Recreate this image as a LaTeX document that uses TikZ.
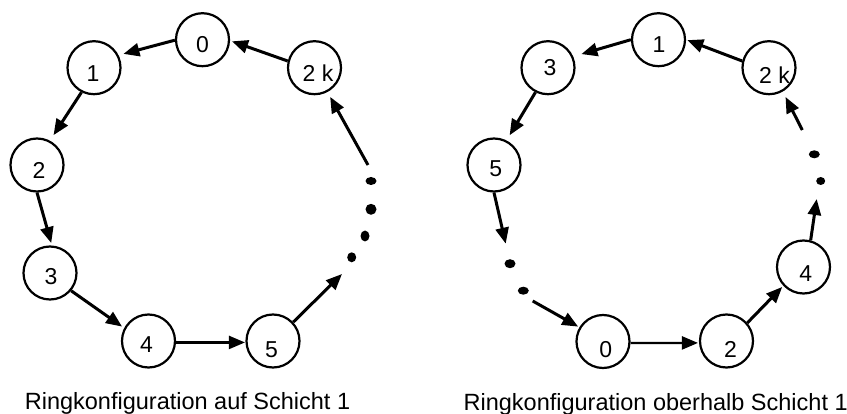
\documentclass[tikz,border=0pt]{standalone}
\usepackage{fontspec}
\setmainfont{Liberation Sans}
\usetikzlibrary{arrows.meta}
\begin{document}
\begin{tikzpicture}[x=1pt,y=-1pt,
  ring/.style={draw, circle, line width=2.2pt, minimum size=53pt, inner sep=0pt},
  num/.style={inner sep=0pt, font=\fontsize{23}{26}\selectfont},
  caption/.style={inner sep=0pt, anchor=base, font=\fontsize{23.5}{28}\selectfont},
  arr/.style={line width=3pt, -{Triangle[length=16pt,width=13pt]}},
  thinarr/.style={arr, line width=2.3pt},
  gapdot/.style={fill=black}]
\useasboundingbox (0,0) rectangle (847,414);

% ---------- left ring: layer 1 ----------
\node[ring] (L0)  at (202.5,39.7) {};
\node[ring] (L1)  at (94,67.7) {};
\node[ring] (L2k) at (314.5,67.7) {};
\node[ring] (L2)  at (37,165) {};
\node[ring] (L3)  at (50,273) {};
\node[ring] (L4)  at (148.5,341) {};
\node[ring] (L5)  at (273,341) {};

\node[num] (L0t)  at (202.5,45) {0};
\node[num] (L1t)  at (93,73.5) {1};
\node[num] (L2kt) at (318,73.5) {2 k};
\node[num] (L2t)  at (39,170) {2};
\node[num] (L3t)  at (51,277) {3};
\node[num] (L4t)  at (146.5,345) {4};
\node[num] (L5t)  at (271.5,349.5) {5};

\coordinate (Lda) at (342,274);
\coordinate (Ldb) at (368,165);

\draw[arr, shorten >=5pt] (L0.181) -- (L1.27);
\draw[arr, shorten >=2pt] (L2k.166) -- (L0.-2.5);
\draw[arr, shorten >=6.5pt] (L1.243.7) -- (L2.62);
\draw[arr, shorten >=2.5pt] (L2.-90) -- (L3.86);
\draw[arr, shorten >=2.5pt] (L3.-40.8) -- (L4.152);
\draw[thinarr, shorten >=0.5pt] (L4.-3) -- (L5.183);
\draw[arr] (L5.43.7) -- (Lda);
\draw[arr, shorten >=5.5pt] (Ldb) -- (L2k.-62);

\fill[gapdot] (371,181) ellipse [x radius=5.5pt, y radius=4pt];
\fill[gapdot] (371,209.3) ellipse [x radius=5.5pt, y radius=5.5pt];
\fill[gapdot] (365,236) ellipse [x radius=4.5pt, y radius=5.5pt];
\fill[gapdot] (351.7,257.3) ellipse [x radius=4.5pt, y radius=5pt];

\node[caption] (Lcap) at (187.5,409.5) {Ringkonfiguration auf Schicht 1};

% ---------- right ring: above layer 1 ----------
\node[ring] (R1)  at (658.5,39.7) {};
\node[ring] (R3)  at (548,67.7) {};
\node[ring] (R2k) at (769,67.7) {};
\node[ring] (R5)  at (494,165) {};
\node[ring] (R4)  at (803.5,267) {};
\node[ring] (R0)  at (603,341.5) {};
\node[ring] (R2)  at (726.5,341) {};

\node[num] (R1t)  at (659,44.8) {1};
\node[num] (R3t)  at (550,67.5) {3};
\node[num] (R2kt) at (774.5,75) {2 k};
\node[num] (R5t)  at (495.7,168.8) {5};
\node[num] (R4t)  at (805.7,273.3) {4};
\node[num] (R0t)  at (605.7,349.8) {0};
\node[num] (R2t)  at (730.5,349.5) {2};

\coordinate (Rda) at (505.7,243.7);
\coordinate (Rdb) at (532.7,301);
\coordinate (Rdc) at (816.7,199);
\coordinate (Rdd) at (802.3,130);

\draw[arr, shorten >=8.5pt] (R1.180.6) -- (R3.24.6);
\draw[arr, shorten >=1.3pt] (R2k.166.7) -- (R1.-0.6);
\draw[arr, shorten >=6pt] (R3.243.7) -- (R5.63.4);
\draw[arr] (R5.-90) -- (Rda);
\draw[arr, shorten >=1.3pt] (Rdb) -- (R0.149);
\draw[thinarr, shorten >=1pt] (R0.-3) -- (R2.184);
\draw[arr, shorten >=1.6pt] (R2.41.2) -- (R4.223.3);
\draw[arr] (R4.75.2) -- (Rdc);
\draw[arr, shorten >=6pt] (Rdd) -- (R2k.-60);

\fill[gapdot] (814.3,154.3) ellipse [x radius=5.5pt, y radius=4pt];
\fill[gapdot] (820.7,181) ellipse [x radius=4.5pt, y radius=4pt];
\fill[gapdot] (510,263.7) ellipse [x radius=5.5pt, y radius=4.5pt];
\fill[gapdot] (523.3,290.7) ellipse [x radius=5.5pt, y radius=4pt];

\node[caption] (Rcap) at (655.7,410) {Ringkonfiguration oberhalb Schicht 1};
\end{tikzpicture}
\end{document}
